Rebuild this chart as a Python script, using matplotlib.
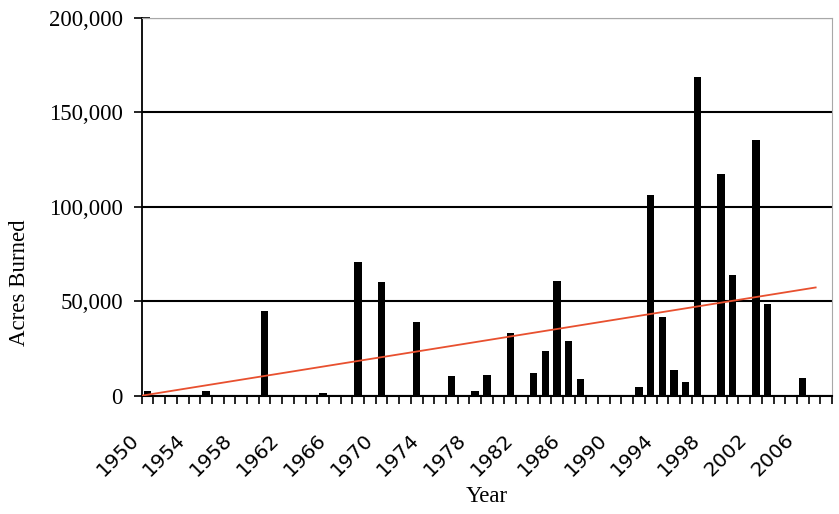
import numpy as np
import matplotlib
matplotlib.use("Agg")
import matplotlib.pyplot as plt
from matplotlib.ticker import FuncFormatter
from matplotlib.transforms import ScaledTranslation

# acres burned per year, 1950-2008 (0 = no bar)
years = list(range(1950, 2009))
acres = [
    2300, 0, 0, 0, 0, 2300, 0, 0, 0, 0,            # 1950s
    44600, 0, 0, 0, 0, 1600, 0, 0, 70600, 0,       # 1960s
    60400, 0, 0, 39000, 0, 0, 10300, 0, 2300, 11200,  # 1970s
    0, 33400, 0, 11900, 23900, 60500, 28700, 8900, 0, 0,  # 1980s
    0, 0, 4800, 106500, 41400, 13600, 7100, 168500, 0, 117500,  # 1990s
    63700, 0, 135200, 48700, 0, 0, 9550, 0, 0,     # 2000s
]
label_years = list(range(1950, 2007, 4))

# linear trend line as drawn (start / end values)
trend_x = [1949.5, 2007.1]
trend_y = [0, 57300]

x = np.arange(len(years))
x0 = years[0]

fig = plt.figure(figsize=(8.39, 5.14), dpi=100)
ax = fig.add_axes([0.1689, 0.2302, 0.8228, 0.7348])

ax.bar(x, acres, width=0.63, color="black", zorder=3)
ax.plot([t - x0 for t in trend_x], trend_y, color="#e8502f", lw=1.3, zorder=4)

ax.set_xlim(-0.5, len(years) - 0.5)
ax.set_ylim(0, 200000)
ax.set_yticks([0, 50000, 100000, 150000, 200000])
ax.yaxis.set_major_formatter(FuncFormatter(lambda v, p: f"{int(v):,}"))
ax.grid(axis="y", color="black", lw=1.5, zorder=1)

for s in ["top", "right"]:
    ax.spines[s].set_color("#a8a8a8")
ax.spines["left"].set_linewidth(1.3)
ax.spines["bottom"].set_linewidth(1.5)

ax.tick_params(axis="y", which="major", direction="inout", length=11, width=1.2,
               pad=8, labelsize=16.5)
for lab in ax.get_yticklabels():
    lab.set_fontfamily("Liberation Serif")

# category boundaries get the small tick marks, labels sit at centers
ax.set_xticks(np.arange(-0.5, len(years)), minor=True)
ax.set_xticks([y - x0 for y in label_years])
ax.set_xticklabels([str(y) for y in label_years], rotation=45, ha="right",
                   va="top", fontsize=14.5, family="DejaVu Sans")
ax.tick_params(axis="x", which="major", length=0, pad=25)
ax.tick_params(axis="x", which="minor", direction="out", length=6, width=1.2)
shift = ScaledTranslation(-5 / 100, 0, fig.dpi_scale_trans)
for lab in ax.get_xticklabels():
    lab.set_transform(lab.get_transform() + shift)

ax.set_ylabel("Acres Burned", family="Liberation Serif", fontsize=16.5)
ax.yaxis.set_label_coords(-0.1615, 0.30)
ax.set_xlabel("Year", family="Liberation Serif", fontsize=16.5)
ax.xaxis.set_label_coords(0.5, -0.267)
ax.xaxis.label.set_va("center")

plt.savefig("out.png", dpi=100)
